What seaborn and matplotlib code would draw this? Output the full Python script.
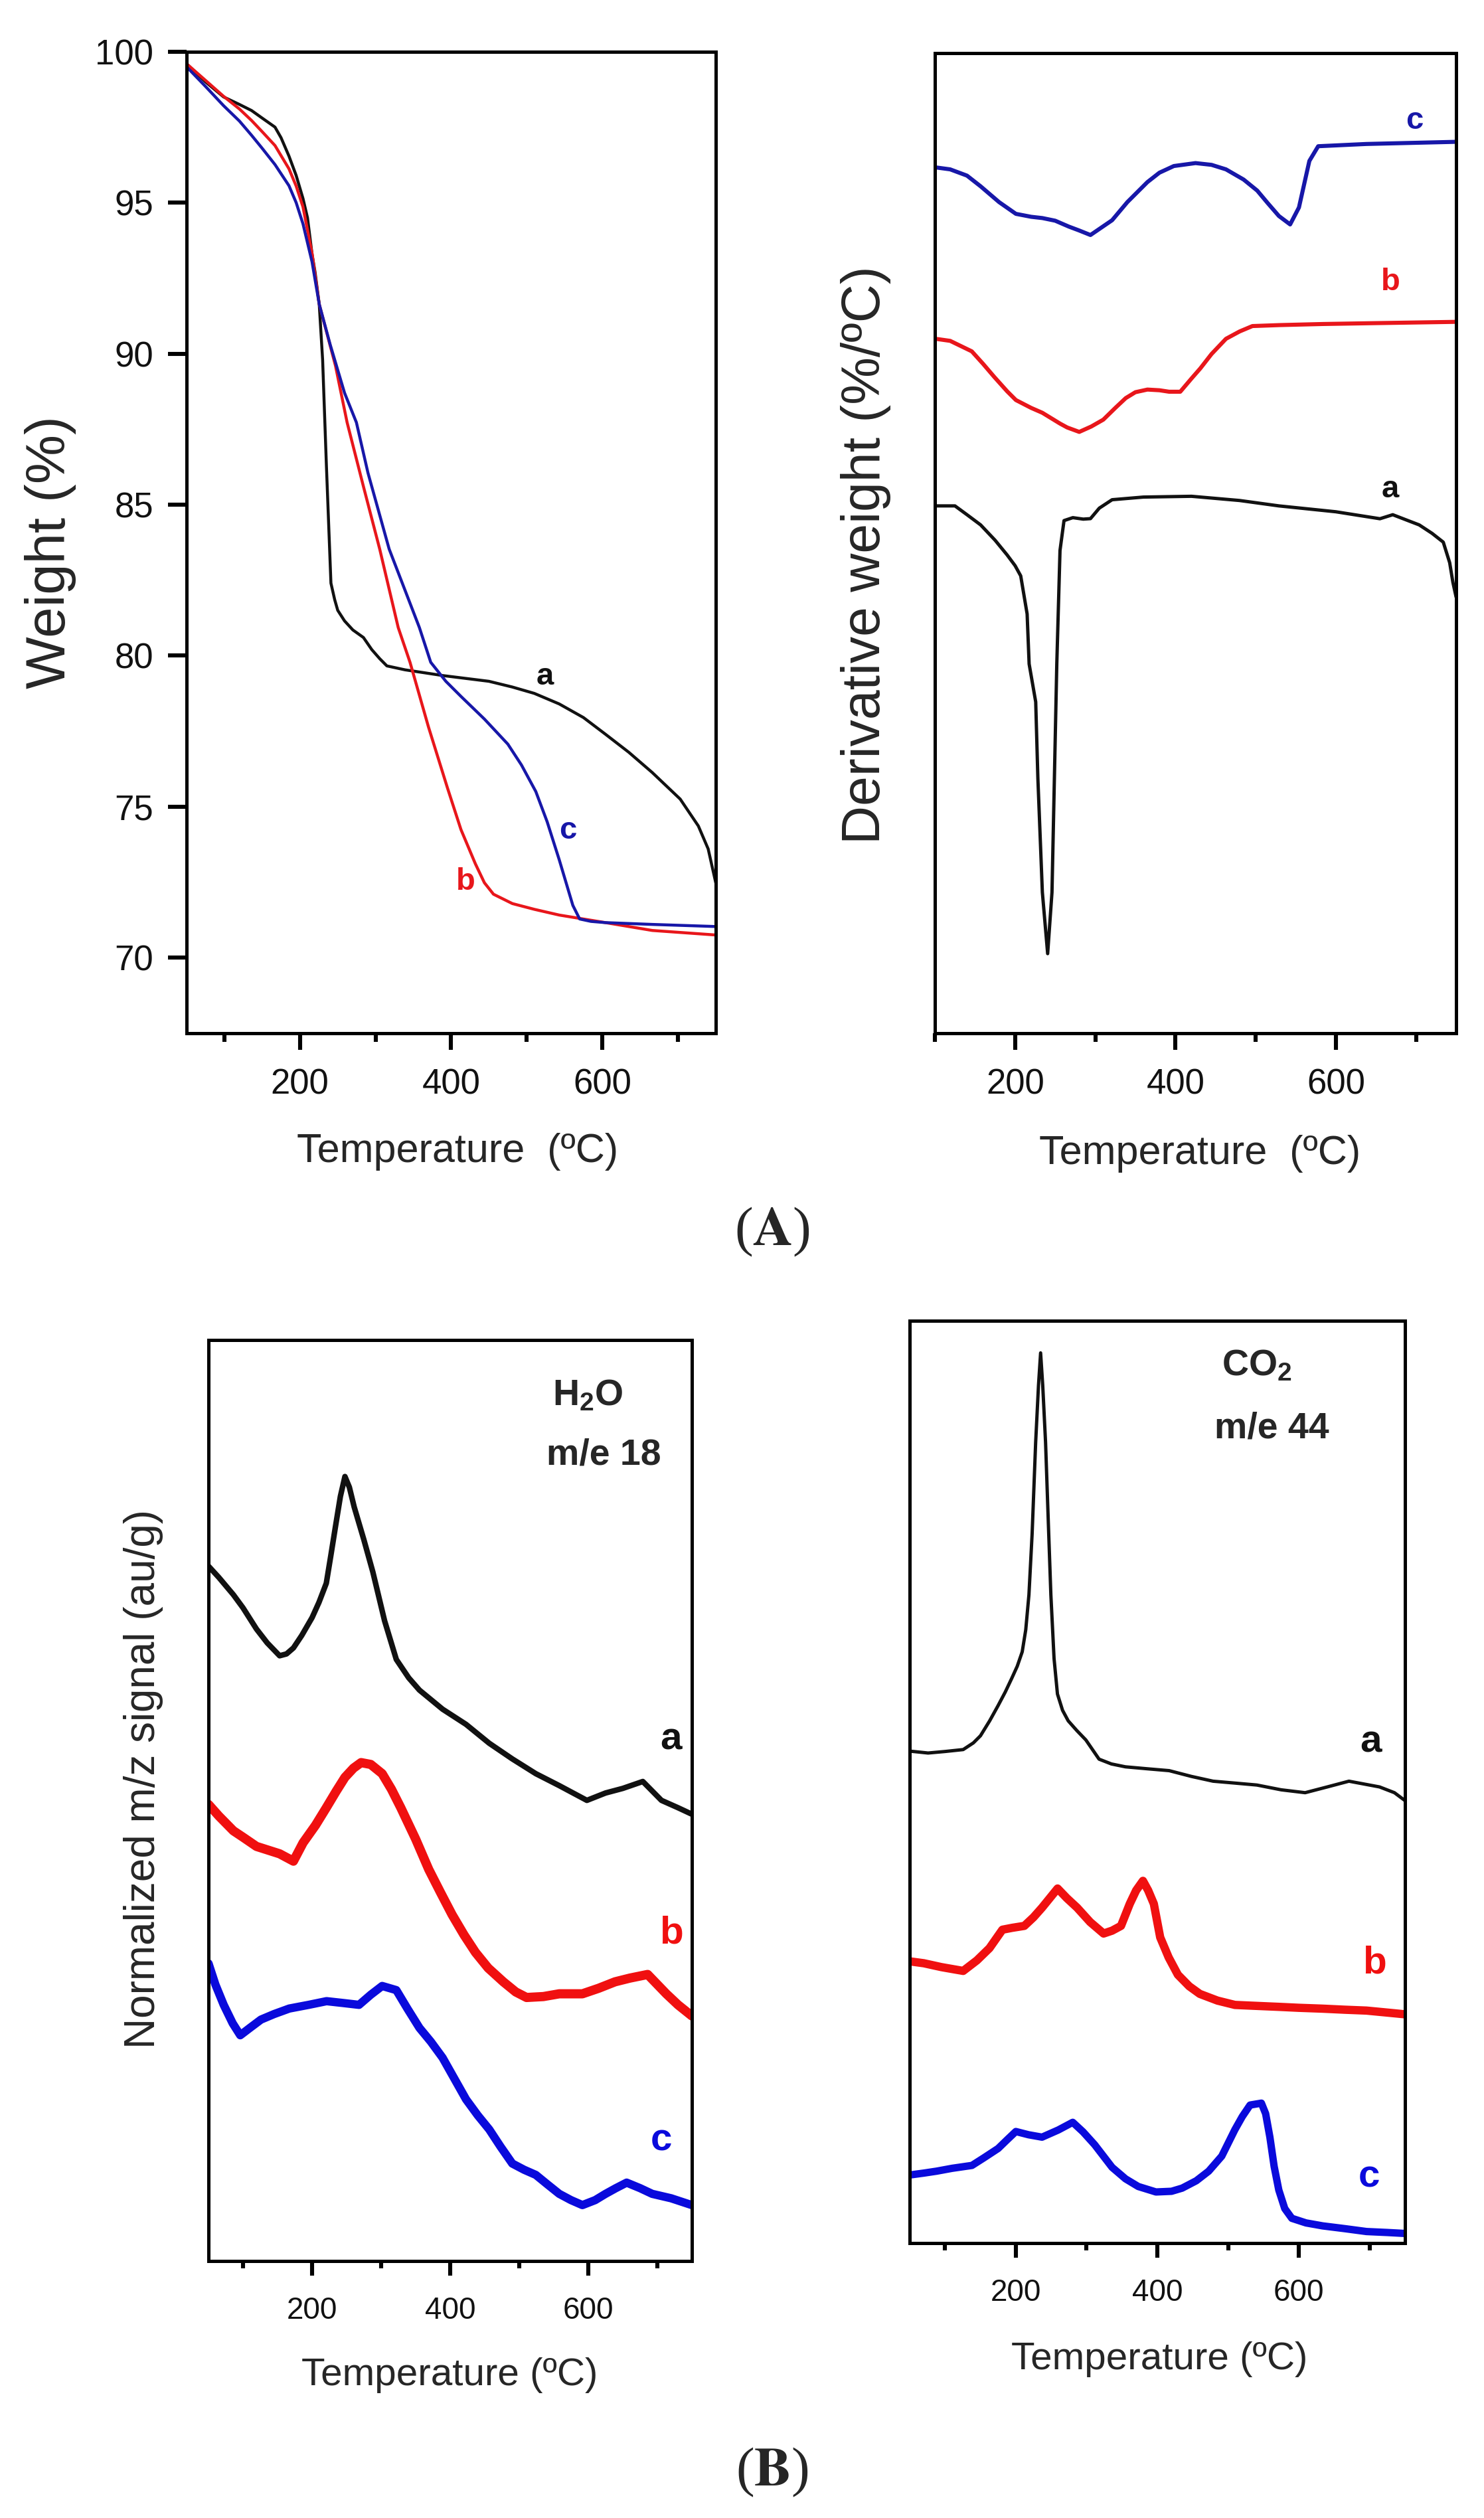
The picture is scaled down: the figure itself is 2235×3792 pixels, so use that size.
import matplotlib
matplotlib.use('Agg')
import matplotlib.pyplot as plt
from matplotlib.ticker import MultipleLocator
import seaborn as sns

# ---- (A) left: TGA weight (%) ----
tga_temp_a = [50, 75, 99, 120, 136, 150, 167, 175, 185.5, 195, 204, 210, 216, 220, 225.5, 230,
              235, 241, 246, 250, 259, 270, 284, 295, 305.5, 315, 339, 389, 450, 481, 510, 543,
              575, 604, 635, 666, 703, 727, 740, 750]
tga_wt_a = [99.6, 99.0, 98.5, 98.25, 98.05, 97.8, 97.5, 97.15, 96.54, 95.9, 95.14, 94.5, 93.3,
            92.7, 91.64, 89.8, 86.3, 82.4, 81.85, 81.5, 81.15, 80.85, 80.6, 80.2, 79.9, 79.66,
            79.53, 79.34, 79.15, 78.96, 78.75, 78.4, 77.95, 77.4, 76.8, 76.13, 75.25, 74.36,
            73.6, 72.48]
tga_temp_b = [50, 75, 99, 120, 136, 150, 167, 185.5, 195, 204, 216, 225.5, 247, 262.4, 284, 305.5,
              330, 345.6, 370, 395, 413, 432, 444, 456, 481, 510, 543, 604, 666, 750]
tga_wt_b = [99.6, 99.05, 98.52, 98.1, 97.72, 97.35, 96.89, 96.12, 95.55, 94.86, 93.32, 91.64,
            89.6, 87.72, 85.6, 83.53, 80.93, 79.78, 77.64, 75.63, 74.24, 73.11, 72.48, 72.1,
            71.79, 71.6, 71.41, 71.16, 70.9, 70.75]
tga_temp_c = [50, 75, 99, 120, 136, 150, 167, 185.5, 195, 204, 216, 225.5, 240, 259, 274.7, 290,
              318, 340, 358, 373, 393, 413, 444, 475, 493, 512, 527, 543, 561, 570, 585, 604,
              666, 750]
tga_wt_c = [99.5, 98.85, 98.21, 97.7, 97.23, 96.8, 96.26, 95.56, 95.0, 94.30, 93.04, 91.64,
            90.3, 88.7, 87.72, 86.05, 83.53, 82.1, 80.93, 79.78, 79.15, 78.65, 77.9, 77.07,
            76.38, 75.5, 74.5, 73.24, 71.73, 71.28, 71.2, 71.16, 71.1, 71.03]

# ---- (A) right: DTG (arbitrary offset units) ----
dtg_temp_a = [100, 125, 140, 157, 175, 190, 200, 207, 215, 217.5, 225.7, 228.4, 234, 240.6, 246,
              249, 252, 256, 261, 272, 285, 294, 305, 321, 360, 420, 480, 529, 600, 655, 671,
              690, 704, 720, 734, 742, 746, 750]
dtg_val_a = [53.8, 53.8, 52.9, 51.86, 50.3, 48.8, 47.7, 46.66, 42.77, 37.67, 33.8, 26.0, 14.37,
             8.11, 14.37, 26.0, 37.67, 49.25, 52.3, 52.6, 52.45, 52.5, 53.57, 54.43, 54.7, 54.78,
             54.35, 53.8, 53.2, 52.49, 52.9, 52.3, 51.86, 51.0, 50.1, 48.0, 46.0, 44.5]
dtg_temp_b = [100, 119, 146, 160, 174, 190, 201, 220, 234, 256, 265, 280, 295, 310, 325, 338,
              350, 365, 380, 392, 406, 420, 431, 445, 463, 480, 496, 530, 584, 650, 750]
dtg_val_b = [70.86, 70.64, 69.57, 68.3, 66.96, 65.5, 64.6, 63.8, 63.3, 62.2, 61.8, 61.35, 61.9,
             62.6, 63.8, 64.8, 65.4, 65.67, 65.6, 65.45, 65.45, 66.8, 67.83, 69.3, 70.85, 71.6,
             72.15, 72.25, 72.36, 72.45, 72.58]
dtg_temp_c = [100, 119, 140, 157, 180, 201, 220, 234, 250, 267, 280, 294, 321, 340, 365, 380,
              398, 425, 445, 463, 485, 502, 515, 529, 543, 554, 567, 578, 638, 750]
dtg_val_c = [88.35, 88.14, 87.5, 86.41, 84.8, 83.60, 83.3, 83.17, 82.9, 82.30, 81.9, 81.44, 82.95,
             84.8, 86.84, 87.8, 88.48, 88.78, 88.6, 88.14, 87.1, 85.97, 84.7, 83.38, 82.52,
             84.25, 89.0, 90.5, 90.73, 90.95]

# ---- (B) left: H2O m/e 18 ----
h2o_temp_a = [50, 65, 86, 100, 119.5, 135, 153, 163, 173, 185, 200, 210, 220.6, 227, 234, 241,
              247.6, 254, 261, 275, 288, 305, 322, 340, 355.5, 389, 423, 456.6, 490, 524, 558,
              598, 625, 650, 679, 706, 730, 750]
h2o_val_a = [75.43, 74.2, 72.33, 70.9, 68.6, 67.1, 65.7, 65.9, 66.55, 67.9, 69.84, 71.5, 73.57,
             76.5, 79.78, 83.0, 85.16, 84.0, 81.85, 78.3, 74.8, 69.5, 65.3, 63.3, 61.97, 59.9,
             58.25, 56.2, 54.5, 52.9, 51.6, 50.0, 50.8, 51.3, 52.05, 50.0, 49.2, 48.5]
h2o_temp_b = [50, 65, 86, 100, 119.5, 153, 173, 187, 205, 220.6, 235, 247.6, 260, 271, 285,
              301.5, 315, 328.5, 350, 369, 386, 402.7, 420, 436.6, 455, 477, 495, 510.6, 535,
              558, 591.5, 615, 638.7, 660, 686, 713, 730, 750]
h2o_val_b = [49.56, 48.3, 46.7, 46.0, 45.0, 44.2, 43.4, 45.4, 47.3, 49.2, 51.0, 52.5, 53.5,
             54.1, 53.9, 52.9, 51.2, 49.2, 45.8, 42.5, 40.0, 37.6, 35.4, 33.5, 31.8, 30.3, 29.2,
             28.6, 28.7, 29.0, 29.0, 29.6, 30.3, 30.7, 31.1, 29.0, 27.8, 26.6]
h2o_temp_c = [50, 60, 72, 85, 96, 110, 126, 145, 167, 195, 221, 245, 268, 285, 301.5, 322, 338,
              355.5, 372, 389, 406, 423, 440, 456.6, 473, 490, 507, 524, 541, 558, 575, 591.5,
              610, 625, 640, 655.6, 675, 692.6, 720, 750]
h2o_val_c = [32.3, 30.0, 27.8, 25.8, 24.5, 25.3, 26.2, 26.8, 27.4, 27.8, 28.2, 28.0, 27.8, 28.9,
             29.85, 29.4, 27.4, 25.3, 23.8, 22.06, 19.8, 17.54, 15.8, 14.27, 12.4, 10.57, 9.9,
             9.34, 8.3, 7.28, 6.6, 6.06, 6.6, 7.28, 7.9, 8.5, 7.9, 7.28, 6.8, 6.06]

# ---- (B) right: CO2 m/e 44 ----
co2_temp_a = [50, 76, 100, 125.6, 140, 150, 163, 175, 185, 194, 202, 209, 214, 218.5, 223, 228,
              232, 235, 238, 242, 246, 249.5, 254, 258.8, 266, 274, 286, 299, 317.6, 335, 354.8,
              385, 416.7, 448, 478.7, 510, 540.6, 575, 608.8, 640, 670.7, 714, 735, 750]
co2_val_a = [51.34, 51.14, 51.3, 51.5, 52.2, 52.94, 54.5, 56.1, 57.5, 58.9, 60.2, 61.7, 64.0,
             67.65, 74.0, 83.56, 89.5, 92.9, 89.5, 83.56, 75.0, 67.65, 61.0, 57.3, 55.6, 54.5,
             53.5, 52.5, 50.5, 50.0, 49.7, 49.5, 49.3, 48.7, 48.2, 48.0, 47.8, 47.3, 47.0, 47.6,
             48.2, 47.6, 47.0, 46.17]
co2_temp_b = [50, 70, 94.6, 110, 125.6, 145, 162.7, 181, 195, 212, 225, 237, 248, 259, 272,
              286.6, 305, 324, 336, 348.6, 361, 370, 379.6, 387, 395, 404, 416, 429, 445, 460,
              485, 509.6, 540, 571.6, 600, 633.6, 665, 695.5, 725, 750]
co2_val_b = [29.4, 29.2, 28.8, 28.6, 28.4, 29.5, 30.77, 32.7, 32.9, 33.1, 34.0, 35.0, 36.0,
             37.0, 36.0, 35.0, 33.5, 32.3, 32.6, 33.1, 35.4, 36.8, 37.8, 36.8, 35.4, 31.9, 29.8,
             28.0, 26.8, 26.0, 25.3, 24.85, 24.75, 24.65, 24.55, 24.46, 24.35, 24.26, 24.05,
             23.87]
co2_temp_c = [50, 70, 88, 110, 138, 155, 175, 188, 200, 218, 237, 260, 280.4, 295, 311.4, 336,
              355, 373, 398, 420, 435, 455, 472.5, 491, 509.6, 520, 531, 547, 553, 559, 565,
              571.6, 580, 590, 610, 633.6, 665, 695.5, 725, 750]
co2_val_c = [7.1, 7.3, 7.5, 7.8, 8.1, 8.9, 9.87, 10.8, 11.64, 11.3, 11.05, 11.8, 12.6, 11.6,
             10.26, 7.9, 6.7, 5.9, 5.33, 5.4, 5.73, 6.5, 7.5, 9.07, 11.84, 13.2, 14.4, 14.6, 13.5,
             11.05, 8.0, 5.53, 3.6, 2.58, 2.1, 1.79, 1.5, 1.2, 1.1, 1.0]

BLACK = '#111111'
RED_TOP = '#e8161b'
BLUE_TOP = '#1717a8'
RED_BOT = '#f01010'
BLUE_BOT = '#0a0adc'

sns.set_style('ticks')
plt.rcParams['font.family'] = ['Liberation Sans', 'DejaVu Sans']
plt.rcParams['mathtext.fontset'] = 'custom'
plt.rcParams['mathtext.rm'] = 'Liberation Sans'
plt.rcParams['mathtext.bf'] = 'Liberation Sans:bold'

fig = plt.figure(figsize=(11.175, 18.96), dpi=200)
ax_tga = fig.add_axes([0.1257, 0.5897, 0.3566, 0.3898])
ax_dtg = fig.add_axes([0.6300, 0.5897, 0.3512, 0.3892])
ax_h2o = fig.add_axes([0.1405, 0.1021, 0.3257, 0.3658])
ax_co2 = fig.add_axes([0.6130, 0.1092, 0.3338, 0.3663])


def style_axes(ax, tick_size, major_len, minor_len, pad):
    for sp in ax.spines.values():
        sp.set_visible(True)
        sp.set_linewidth(1.8)
        sp.set_color('black')
    ax.xaxis.set_major_locator(MultipleLocator(200))
    ax.xaxis.set_minor_locator(MultipleLocator(100))
    ax.tick_params(axis='x', which='major', direction='out', length=major_len, width=2.2,
                   labelsize=tick_size, pad=pad, bottom=True, top=False, color='black',
                   labelcolor='#111111')
    ax.tick_params(axis='x', which='minor', direction='out', length=minor_len, width=2.2,
                   bottom=True, top=False, color='black')


# (A) left
sns.lineplot(x=tga_temp_a, y=tga_wt_a, ax=ax_tga, color=BLACK, linewidth=1.6, sort=False)
sns.lineplot(x=tga_temp_b, y=tga_wt_b, ax=ax_tga, color=RED_TOP, linewidth=1.6, sort=False)
sns.lineplot(x=tga_temp_c, y=tga_wt_c, ax=ax_tga, color=BLUE_TOP, linewidth=1.6, sort=False)
ax_tga.set_xlim(50, 750)
ax_tga.set_ylim(67.5, 100)
style_axes(ax_tga, 19, 9, 4.5, 10)
ax_tga.set_yticks([70, 75, 80, 85, 90, 95, 100])
ax_tga.tick_params(axis='y', which='major', direction='out', length=10, width=2.2, labelsize=19,
                   pad=8, left=True, right=False, color='black', labelcolor='#111111')
ax_tga.set_xlabel('Temperature  (ºC)', fontsize=22)
ax_tga.set_ylabel('Weight (%)', fontsize=30)
ax_tga.xaxis.set_label_coords(0.512, -0.1015)
ax_tga.yaxis.set_label_coords(-0.208, 0.49)
ax_tga.text(524, 79.3, 'a', color=BLACK, fontsize=17, fontweight='bold', ha='center', va='center')
ax_tga.text(419, 72.5, 'b', color=RED_TOP, fontsize=17, fontweight='bold', ha='center', va='center')
ax_tga.text(554, 74.2, 'c', color=BLUE_TOP, fontsize=17, fontweight='bold', ha='center', va='center')

# (A) right
sns.lineplot(x=dtg_temp_a, y=dtg_val_a, ax=ax_dtg, color=BLACK, linewidth=1.8, sort=False)
sns.lineplot(x=dtg_temp_b, y=dtg_val_b, ax=ax_dtg, color=RED_TOP, linewidth=2.2, sort=False)
sns.lineplot(x=dtg_temp_c, y=dtg_val_c, ax=ax_dtg, color=BLUE_TOP, linewidth=2.2, sort=False)
ax_dtg.set_xlim(100, 750)
ax_dtg.set_ylim(0, 100)
style_axes(ax_dtg, 19, 9, 4.5, 10)
ax_dtg.set_yticks([])
ax_dtg.set_xlabel('Temperature  (ºC)', fontsize=22)
ax_dtg.set_ylabel('Derivative weight (%/ºC)', fontsize=29)
ax_dtg.xaxis.set_label_coords(0.508, -0.1037)
ax_dtg.yaxis.set_label_coords(-0.084, 0.488)
ax_dtg.text(698, 93.1, 'c', color=BLUE_TOP, fontsize=17, fontweight='bold', ha='center', va='center')
ax_dtg.text(668, 76.6, 'b', color=RED_TOP, fontsize=17, fontweight='bold', ha='center', va='center')
ax_dtg.text(668, 55.5, 'a', color=BLACK, fontsize=17, fontweight='bold', ha='center', va='center')

# (B) left
sns.lineplot(x=h2o_temp_a, y=h2o_val_a, ax=ax_h2o, color=BLACK, linewidth=3.0, sort=False)
sns.lineplot(x=h2o_temp_b, y=h2o_val_b, ax=ax_h2o, color=RED_BOT, linewidth=5.0, sort=False)
sns.lineplot(x=h2o_temp_c, y=h2o_val_c, ax=ax_h2o, color=BLUE_BOT, linewidth=4.5, sort=False)
ax_h2o.set_xlim(50, 750)
ax_h2o.set_ylim(0, 100)
style_axes(ax_h2o, 16.5, 8, 4, 11)
ax_h2o.set_yticks([])
ax_h2o.set_xlabel('Temperature (ºC)', fontsize=21)
ax_h2o.set_ylabel('Normalized m/z signal (au/g)', fontsize=23)
ax_h2o.xaxis.set_label_coords(0.4986, -0.105)
ax_h2o.yaxis.set_label_coords(-0.094, 0.523)
ax_h2o.text(599, 93.9, r'$\mathbf{H_2O}$', fontsize=20, ha='center', va='center')
ax_h2o.text(622, 87.5, 'm/e 18', fontsize=20, fontweight='bold', ha='center', va='center')
ax_h2o.text(720, 56.6, 'a', color=BLACK, fontsize=21, fontweight='bold', ha='center', va='center')
ax_h2o.text(720, 35.6, 'b', color=RED_BOT, fontsize=21, fontweight='bold', ha='center', va='center')
ax_h2o.text(706, 13.05, 'c', color=BLUE_BOT, fontsize=21, fontweight='bold', ha='center', va='center')

# (B) right
sns.lineplot(x=co2_temp_a, y=co2_val_a, ax=ax_co2, color=BLACK, linewidth=1.8, sort=False)
sns.lineplot(x=co2_temp_b, y=co2_val_b, ax=ax_co2, color=RED_BOT, linewidth=4.5, sort=False)
sns.lineplot(x=co2_temp_c, y=co2_val_c, ax=ax_co2, color=BLUE_BOT, linewidth=4.0, sort=False)
ax_co2.set_xlim(50, 750)
ax_co2.set_ylim(0, 96.26)
style_axes(ax_co2, 16.5, 8, 4, 11)
ax_co2.set_yticks([])
ax_co2.set_xlabel('Temperature (ºC)', fontsize=21)
ax_co2.xaxis.set_label_coords(0.504, -0.1066)
ax_co2.text(541, 91.5, r'$\mathbf{CO_2}$', fontsize=20, ha='center', va='center')
ax_co2.text(562, 85.0, 'm/e 44', fontsize=20, fontweight='bold', ha='center', va='center')
ax_co2.text(702, 52.3, 'a', color=BLACK, fontsize=21, fontweight='bold', ha='center', va='center')
ax_co2.text(707, 29.2, 'b', color=RED_BOT, fontsize=21, fontweight='bold', ha='center', va='center')
ax_co2.text(699, 6.9, 'c', color=BLUE_BOT, fontsize=21, fontweight='bold', ha='center', va='center')

# panel letters
fig.text(0.5204, 0.5108, r'($\mathbf{A}$)', fontsize=30, family='Liberation Serif',
         math_fontfamily='stix', ha='center', va='center')
fig.text(0.5204, 0.0182, r'($\mathbf{B}$)', fontsize=30, family='Liberation Serif',
         math_fontfamily='stix', ha='center', va='center')

fig.savefig('out.png', dpi=200, facecolor='white')
